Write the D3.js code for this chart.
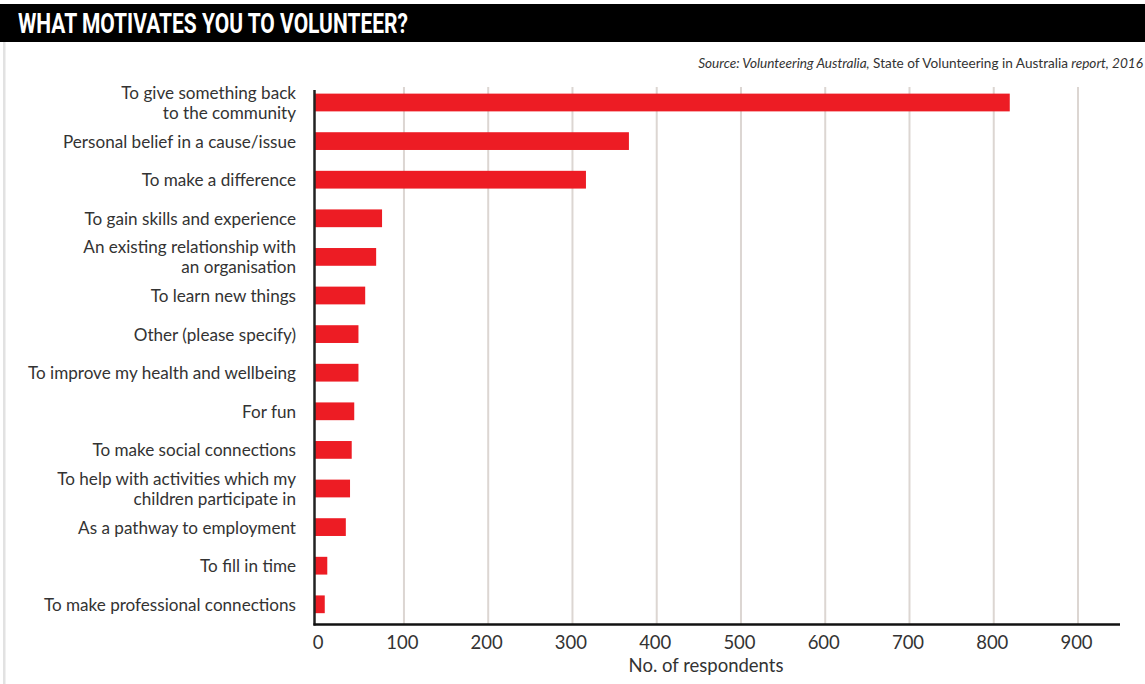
<!DOCTYPE html>
<html>
<head>
<meta charset="utf-8">
<script src="https://cdn.jsdelivr.net/npm/d3@7"></script>
<style>
  body { margin: 0; background: #fff; }
  svg { display: block; }
</style>
</head>
<body>
<div id="chart"></div>
<script>
// data
const reasons = [
    ["To give something back", "to the community"],
    ["Personal belief in a cause/issue"],
    ["To make a difference"],
    ["To gain skills and experience"],
    ["An existing relationship with", "an organisation"],
    ["To learn new things"],
    ["Other (please specify)"],
    ["To improve my health and wellbeing"],
    ["For fun"],
    ["To make social connections"],
    ["To  help with activities which my", "children participate in"],
    ["As a pathway to employment"],
    ["To fill in time"],
    ["To make professional connections"]
];
const respondents = [819, 367, 316, 74, 67, 54, 46, 46, 41, 38, 36, 31, 9, 6];
const xTicks = [0, 100, 200, 300, 400, 500, 600, 700, 800, 900];

const titleText = "WHAT MOTIVATES YOU TO VOLUNTEER?";
const axisTitle = "No. of respondents";

// canvas
const width = 1145;
const height = 684;
const svg = d3.select("#chart").append("svg")
    .attr("width", width)
    .attr("height", height);

const font = "Lato, 'Open Sans', sans-serif";
const red = "#ed1c24";

// title band
svg.append("rect")
    .attr("x", 0).attr("y", 4)
    .attr("width", width).attr("height", 38)
    .attr("fill", "#000");
svg.append("text")
    .attr("x", 18).attr("y", 33)
    .attr("fill", "#fff")
    .attr("font-family", "Roboto, sans-serif")
    .attr("font-weight", 700)
    .attr("font-size", 27)
    .attr("textLength", 390)
    .attr("lengthAdjust", "spacingAndGlyphs")
    .text(titleText);

// grey rule on the left
svg.append("rect")
    .attr("x", 3).attr("y", 42)
    .attr("width", 2.5).attr("height", height - 42)
    .attr("fill", "#e2e2e2");

// source line
const src = svg.append("text")
    .attr("x", 1143).attr("y", 68)
    .attr("text-anchor", "end")
    .attr("font-family", font)
    .attr("font-size", 13.6)
    .attr("fill", "#333");
src.append("tspan").attr("font-style", "italic").text("Source: Volunteering Australia,");
src.append("tspan").text(" State of Volunteering in Australia");
src.append("tspan").attr("font-style", "italic").text(" report, 2016");

// scales
const xScale = d3.scaleLinear()
    .domain([0, 900])
    .range([319.7, 1078]);

const yScale = d3.scaleBand()
    .domain(d3.range(reasons.length))
    .range([83.2, 623.6])
    .paddingInner(0.54)
    .paddingOuter(0.27);

const axisX = 314.5;
const axisY = 624.5;
const gridTop = 87;

// gridlines
svg.append("g")
    .selectAll("line")
    .data(xTicks.filter(d => d > 0))
    .enter()
    .append("line")
    .attr("x1", d => xScale(d)).attr("x2", d => xScale(d))
    .attr("y1", gridTop).attr("y2", axisY)
    .attr("stroke", "#dcd6d2")
    .attr("stroke-width", 2);

// bars
svg.append("g")
    .selectAll("rect")
    .data(respondents)
    .enter()
    .append("rect")
    .attr("x", axisX)
    .attr("y", (d, i) => yScale(i))
    .attr("width", d => xScale(d) - axisX)
    .attr("height", yScale.bandwidth())
    .attr("fill", red);

// category labels
const labels = svg.append("g")
    .selectAll("text")
    .data(reasons)
    .enter()
    .append("text")
    .attr("text-anchor", "end")
    .attr("font-family", font)
    .attr("font-size", 17.1)
    .attr("fill", "#333")
    .attr("x", 296)
    .attr("y", (d, i) => yScale(i) + yScale.bandwidth() / 2);

labels.each(function (d) {
    const t = d3.select(this);
    const lineH = 20;
    d.forEach((line, k) => {
        t.append("tspan")
            .attr("x", 296)
            .attr("dy", k === 0 ? (-(d.length - 1) * lineH / 2 + 6.5) : lineH)
            .text(line);
    });
});

// axes lines
svg.append("line")
    .attr("x1", axisX).attr("x2", axisX)
    .attr("y1", 90).attr("y2", axisY + 1)
    .attr("stroke", "#222").attr("stroke-width", 2.5);

const xAxis = d3.axisBottom(xScale)
    .tickValues(xTicks)
    .tickSize(0)
    .tickPadding(11);

const gx = svg.append("g")
    .attr("transform", `translate(0,${axisY})`)
    .call(xAxis);
gx.select(".domain").remove();
gx.selectAll("text")
    .attr("font-family", font)
    .attr("font-size", 18.5)
    .attr("fill", "#333")
    .attr("dx", -2);

svg.append("line")
    .attr("x1", axisX - 1).attr("x2", 1120)
    .attr("y1", axisY).attr("y2", axisY)
    .attr("stroke", "#111").attr("stroke-width", 2.5);

svg.append("text")
    .attr("x", 706).attr("y", 671.5)
    .attr("text-anchor", "middle")
    .attr("font-family", font)
    .attr("font-size", 18.5)
    .attr("fill", "#333")
    .text(axisTitle);
</script>
</body>
</html>
